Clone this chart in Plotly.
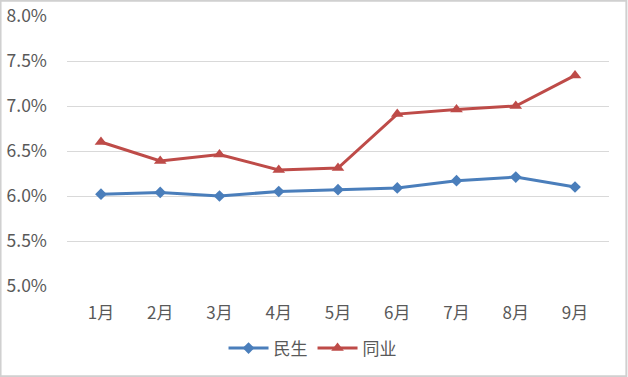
import plotly.graph_objects as go

months = ["1月", "2月", "3月", "4月", "5月", "6月", "7月", "8月", "9月"]
minsheng = [6.02, 6.04, 6.00, 6.05, 6.07, 6.09, 6.17, 6.21, 6.10]
tongye = [6.60, 6.39, 6.46, 6.29, 6.31, 6.91, 6.96, 7.00, 7.34]
y_ticks = [5.0, 5.5, 6.0, 6.5, 7.0, 7.5, 8.0]
y_tick_labels = ["5.0%", "5.5%", "6.0%", "6.5%", "7.0%", "7.5%", "8.0%"]

W, H = 628, 377
L, R, T, B = 67, 19, 16, 91

fig = go.Figure()
fig.add_trace(go.Scatter(x=months, y=minsheng, name="民生", mode="lines+markers",
                         line=dict(color="#4A7EBB", width=3),
                         marker=dict(symbol="diamond", size=9, color="#4A7EBB")))
fig.add_trace(go.Scatter(x=months, y=tongye, name="同业", mode="lines+markers",
                         line=dict(color="#BE4B48", width=3),
                         marker=dict(symbol="triangle-up", size=11, color="#BE4B48")))

fig.update_layout(
    width=W, height=H,
    margin=dict(l=L, r=R, t=T, b=B, autoexpand=False),
    paper_bgcolor="white", plot_bgcolor="white",
    font=dict(family="Noto Sans CJK SC", color="#595959", size=16),
    showlegend=True,
    legend=dict(orientation="h", x=0.453, xanchor="center", y=-0.165, yanchor="top",
                font=dict(size=17, color="#595959"), itemwidth=40),
    xaxis=dict(showgrid=False, showline=False, ticks="", ticklabelstandoff=15,
               tickfont=dict(size=17), automargin=False),
    yaxis=dict(range=[5.0, 8.0], tickvals=y_ticks, ticktext=y_tick_labels,
               showgrid=True, gridcolor="#D9D9D9", gridwidth=1, zeroline=False,
               showline=False, ticks="", ticklabelstandoff=19, tickfont=dict(size=17.5),
               automargin=False),
    shapes=[dict(type="rect", xref="paper", yref="paper",
                 x0=-L / (W - L - R) + 0.001, x1=1 + R / (W - L - R) - 0.003,
                 y0=-B / (H - T - B) + 0.003, y1=1 + T / (H - T - B) - 0.003,
                 line=dict(color="#D0D0D0", width=2))],
)

fig.write_html("out.html")
